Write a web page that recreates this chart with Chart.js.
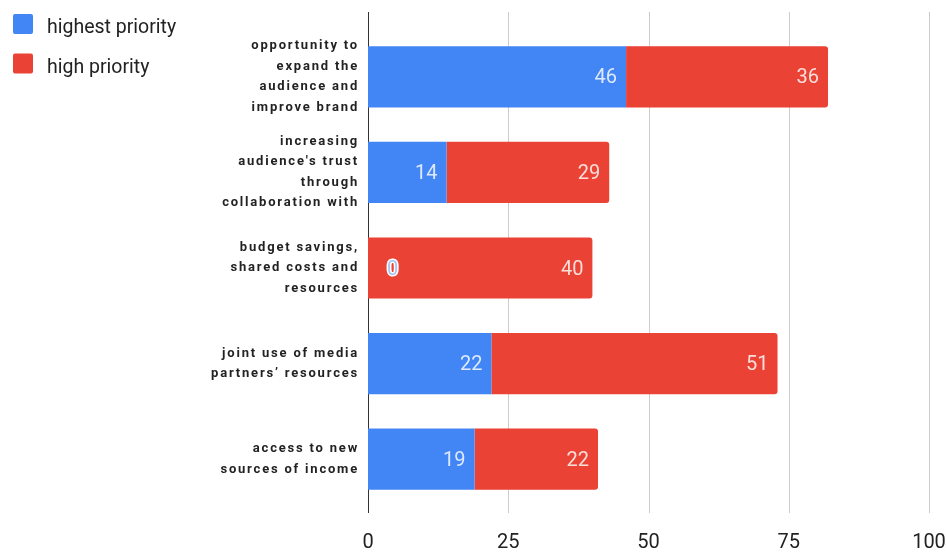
<!DOCTYPE html>
<html>
<head>
<meta charset="utf-8">
<script src="https://cdn.jsdelivr.net/npm/chart.js@4.4.1/dist/chart.umd.min.js"></script>
<style>
  html, body { margin: 0; padding: 0; background: #fff; }
</style>
</head>
<body>
<canvas id="chart" width="946" height="552"></canvas>
<script>
const categories = [
  ['opportunity to', 'expand the', 'audience and', 'improve brand'],
  ['increasing', "audience's trust", 'through', 'collaboration with'],
  ['budget savings,', 'shared costs and', 'resources'],
  ['joint use of media', 'partners’ resources'],
  ['access to new', 'sources of income']
]
const seriesNames = ['highest priority', 'high priority']
const highestPriority = [46, 14, 0, 22, 19]
const highPriority = [36, 29, 40, 51, 22]
const xTicks = [0, 25, 50, 75, 100]

const BLUE = '#4285f4'
const RED = '#ea4335'
const TEXT = '#222222'

// grid lines run a bit past the plot area, like the original
const gridLines = {
  id: 'gridLines',
  beforeDatasetsDraw(chart) {
    const ctx = chart.ctx
    const x = chart.scales.x
    const { top, bottom } = chart.chartArea
    ctx.save()
    ctx.lineWidth = 1
    xTicks.forEach(v => {
      const px = Math.round(x.getPixelForValue(v)) + 0.5
      ctx.strokeStyle = v === 0 ? '#333333' : '#cccccc'
      ctx.beginPath()
      ctx.moveTo(px, top - 17)
      ctx.lineTo(px, bottom + 6)
      ctx.stroke()
    })
    ctx.restore()
  }
}

const valueLabels = {
  id: 'valueLabels',
  afterDatasetsDraw(chart) {
    const ctx = chart.ctx
    ctx.save()
    ctx.font = '20px Roboto'
    ctx.textBaseline = 'middle'
    chart.data.datasets.forEach((ds, di) => {
      chart.getDatasetMeta(di).data.forEach((bar, i) => {
        const v = ds.data[i]
        const y = bar.y + 1.5
        if (v === 0) {
          ctx.textAlign = 'left'
          ctx.lineWidth = 3
          ctx.strokeStyle = '#ffffff'
          ctx.strokeText('0', bar.x + 19, y)
          ctx.fillStyle = '#a9c4f2'
          ctx.fillText('0', bar.x + 19, y)
        } else {
          ctx.textAlign = 'right'
          ctx.fillStyle = 'rgba(255, 255, 255, 0.82)'
          ctx.fillText(String(v), bar.x - 9, y)
        }
      })
    })
    ctx.restore()
  }
}

const sideLegend = {
  id: 'sideLegend',
  afterDraw(chart) {
    const ctx = chart.ctx
    ctx.save()
    ctx.font = '19.5px Roboto'
    ctx.textAlign = 'left'
    ctx.textBaseline = 'alphabetic'
    chart.data.datasets.forEach((ds, i) => {
      const rowY = 14 + i * 39.5
      ctx.fillStyle = ds.backgroundColor
      ctx.beginPath()
      ctx.roundRect(13, rowY, 20, 20, 2)
      ctx.fill()
      ctx.fillStyle = TEXT
      ctx.fillText(ds.label, 47, rowY + 19)
    })
    ctx.restore()
  }
}

// wider letter spacing on the category labels
const spacedLabels = {
  id: 'spacedLabels',
  afterLayout(chart) {
    const y = chart.scales.y
    if (y._spaced) return
    const orig = y.drawLabels.bind(y)
    y.drawLabels = function (area) {
      const ctx = chart.ctx
      ctx.save()
      ctx.letterSpacing = '1.8px'
      orig(area)
      ctx.restore()
    }
    y._spaced = true
  }
}

new Chart(document.getElementById('chart'), {
  type: 'bar',
  data: {
    labels: categories,
    datasets: [
      {
        label: seriesNames[0],
        data: highestPriority,
        backgroundColor: BLUE,
        barPercentage: 0.8,
        categoryPercentage: 0.8
      },
      {
        label: seriesNames[1],
        data: highPriority,
        backgroundColor: RED,
        borderRadius: 3,
        borderSkipped: 'start',
        barPercentage: 0.8,
        categoryPercentage: 0.8
      }
    ]
  },
  options: {
    indexAxis: 'y',
    responsive: false,
    animation: false,
    layout: {
      padding: { top: 29, right: 0, left: 0, bottom: 0 }
    },
    plugins: {
      legend: { display: false },
      tooltip: { enabled: false }
    },
    scales: {
      x: {
        stacked: true,
        min: 0,
        max: 100,
        afterBuildTicks: scale => {
          scale.ticks = xTicks.map(v => ({ value: v }))
        },
        afterFit: scale => {
          scale.height = 45
          scale.paddingLeft = 0
          scale.paddingRight = 17
        },
        grid: { display: false, drawTicks: false },
        border: { display: false },
        ticks: {
          padding: 24,
          color: TEXT,
          font: { family: 'Roboto', size: 20 }
        }
      },
      y: {
        stacked: true,
        afterFit: scale => {
          scale.width = 368
          scale.paddingTop = 0
          scale.paddingBottom = 0
        },
        grid: { display: false, drawTicks: false },
        border: { display: false },
        ticks: {
          padding: 9,
          color: TEXT,
          font: { family: 'Roboto', size: 13, weight: 'bold', lineHeight: 1.58 }
        }
      }
    }
  },
  plugins: [gridLines, valueLabels, sideLegend, spacedLabels]
})
</script>
</body>
</html>
